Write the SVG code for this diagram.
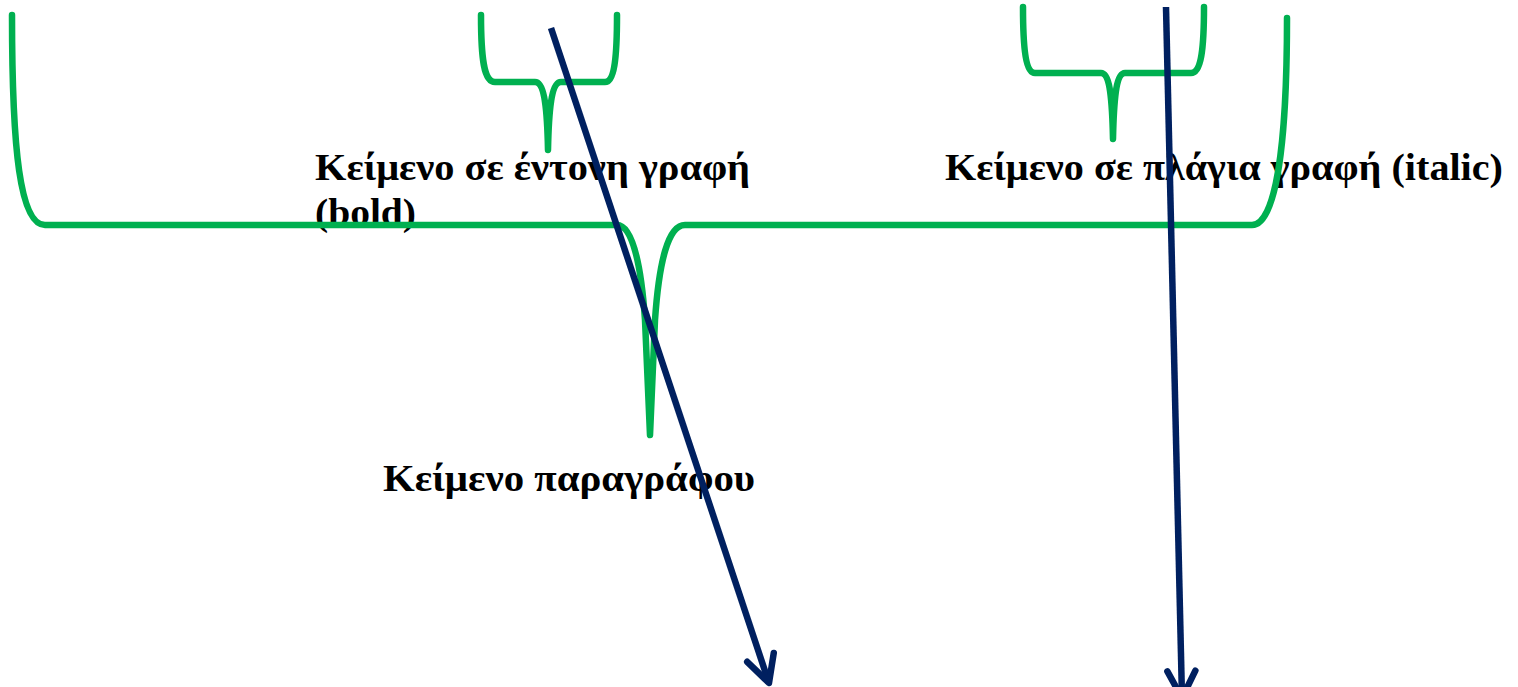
<svg xmlns="http://www.w3.org/2000/svg" width="1518" height="687" viewBox="0 0 1518 687">
<style>
.lbl{font-family:"Liberation Serif","DejaVu Serif",serif;font-weight:bold;font-size:37px;fill:#000}
.brace{fill:none;stroke:#00B050;stroke-width:6.5;stroke-linecap:round;stroke-linejoin:round}
.arrow{fill:none;stroke:#002060;stroke-width:6.5;stroke-linecap:butt}
</style>
<defs>
<marker id="ah" markerUnits="userSpaceOnUse" viewBox="-32 -18 36 36" refX="0" refY="0" markerWidth="36" markerHeight="36" orient="auto" overflow="visible">
<path d="M-27,-14 L0,0 L-27,14" fill="none" stroke="#002060" stroke-width="6.5" stroke-linecap="round" stroke-linejoin="round"/>
</marker>
</defs>
<rect width="1518" height="687" fill="#fff"/>
<g id="label-bold">
<text class="lbl" x="315" y="180" textLength="435" lengthAdjust="spacingAndGlyphs">Κείμενο σε έντονη γραφή</text>
<text class="lbl" x="315" y="225" textLength="101" lengthAdjust="spacingAndGlyphs">(bold)</text>
</g>
<g id="label-italic">
<text class="lbl" x="945" y="180" textLength="558" lengthAdjust="spacingAndGlyphs">Κείμενο σε πλάγια γραφή (italic)</text>
</g>
<g id="label-paragraph">
<text class="lbl" x="383" y="491" textLength="372" lengthAdjust="spacingAndGlyphs">Κείμενο παραγράφου</text>
</g>
<g id="braces">
<path id="brace-big" class="brace" d="M12,15 C12,150 20,225 45,225 L617,225 C632,225 641,262 645,320 L650,435 L655,320 C659,262 668,225 685,225 L1252,225 C1275,225 1287,150 1287,18"/>
<path id="brace-bold" class="brace" d="M481,15 C481,60 484,82 495,82 L535,82 C543,82 547,100 548,150 C549,100 553,82 561,82 L605,82 C614,82 617,60 617,15"/>
<path id="brace-italic" class="brace" d="M1023,7 C1023,50 1026,73 1035,73 L1101,73 C1109,73 1112,92 1113,139 C1114,92 1117,73 1125,73 L1191,73 C1201,73 1204,50 1204,7"/>
</g>
<g id="connectors">
<line class="arrow" x1="551" y1="28" x2="769" y2="683" marker-end="url(#ah)"/>
<line class="arrow" x1="1166" y1="7" x2="1182" y2="698" marker-end="url(#ah)"/>
</g>
</svg>
